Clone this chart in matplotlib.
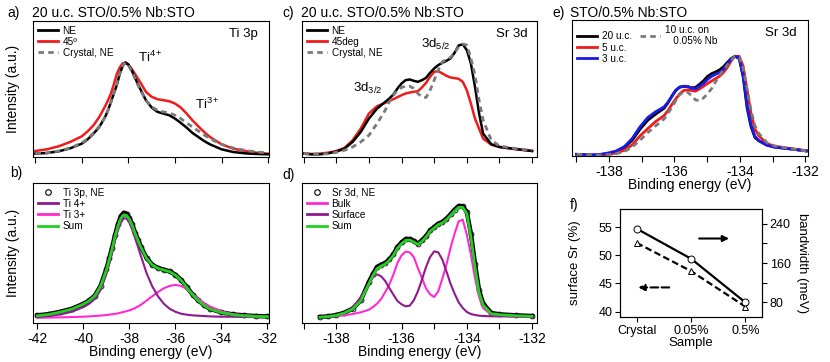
import matplotlib
matplotlib.use("Agg")
import matplotlib.pyplot as plt
from matplotlib.lines import Line2D

plt.rcParams["font.family"] = ["Liberation Sans", "DejaVu Sans"]
plt.rcParams["mathtext.fontset"] = "custom"
plt.rcParams["mathtext.rm"] = "Liberation Sans"
plt.rcParams["mathtext.it"] = "Liberation Sans"
plt.rcParams["mathtext.default"] = "regular"
plt.rcParams["axes.unicode_minus"] = False
plt.rcParams["font.size"] = 10
plt.rcParams["lines.solid_joinstyle"] = "round"
plt.rcParams["lines.dash_joinstyle"] = "round"

W, H = 830, 362

BLACK = "#000000"
RED = "#ee1c1c"
GRAY = "#7a7a7a"
BLUE = "#1a1ae6"
PURPLE = "#8e1b8c"
MAGENTA = "#ff2bd0"
GREEN = "#22d022"
DASH = (0, (2, 1.5))

# ---- a) Ti 3p, normalised spectra (a.u.)
ti_x = [-42, -41.5, -41, -40.5, -40, -39.75, -39.5, -39.25, -39, -38.875, -38.75,
        -38.625, -38.5, -38.375, -38.25, -38.125, -38, -37.875, -37.75, -37.625,
        -37.5, -37.25, -37, -36.75, -36.5, -36.25, -36, -35.75, -35.5, -35.25, -35,
        -34.75, -34.5, -34, -33.5, -33, -32.5, -32]
ti_ne = [10, 12, 17, 26, 40, 53, 70, 90, 120, 140, 165, 190, 215, 248, 272, 283,
         277, 262, 242, 223, 205, 170, 148, 135, 130, 125, 115, 102, 88, 72, 60, 48,
         38, 23, 15, 11, 9, 8]
ti_45 = [18, 23, 32, 45, 62, 77, 95, 120, 152, 170, 190, 218, 248, 268, 280, 282,
         276, 265, 252, 238, 225, 195, 180, 173, 170, 167, 160, 148, 130, 110, 92, 75,
         60, 38, 25, 18, 13, 10]
ti_crystal = [10, 12, 18, 27, 42, 55, 72, 92, 120, 140, 165, 192, 218, 250, 273, 282,
              275, 258, 240, 220, 202, 170, 150, 140, 135, 132, 125, 115, 102, 90, 78,
              66, 55, 38, 27, 20, 15, 12]

# ---- b) Ti 3p fit
tifit_x = ti_x
tifit_data = [23, 27, 34, 43, 58, 68, 83, 113, 163, 195, 228, 265, 298, 322, 333, 330,
              318, 298, 273, 252, 231, 196, 176, 166, 161, 156, 146, 130, 108, 86, 68,
              54, 43, 32, 26, 23, 21, 20]
tifit_sum = [22, 26, 33, 42, 57, 67, 82, 112, 160, 192, 225, 261, 293, 316, 327, 325,
             314, 295, 271, 250, 229, 195, 175, 165, 160, 155, 145, 129, 107, 85, 67,
             53, 42, 31, 25, 22, 20, 19]
tifit_4 = [18, 21, 26, 34, 48, 58, 73, 100, 148, 180, 213, 250, 280, 303, 316, 316,
           303, 282, 256, 230, 203, 150, 110, 80, 58, 43, 34, 28, 25, 23, 22, 21, 20,
           19, 19, 18, 18, 18]
ti3_x = [-42, -41, -40, -39.5, -39, -38.5, -38, -37.75, -37.5, -37.25, -37, -36.75,
         -36.5, -36.25, -36, -35.75, -35.5, -35.25, -35, -34.75, -34.5, -34, -33.5,
         -33, -32.5, -32]
ti3_y = [16, 17, 19, 21, 24, 29, 38, 45, 55, 68, 81, 94, 105, 112, 115, 112, 103,
         88, 73, 60, 50, 35, 27, 23, 21, 20]

# ---- c) Sr 3d, normalised spectra
sr_x = [-139, -138.75, -138.5, -138.25, -138, -137.75, -137.5, -137.25, -137,
        -136.75, -136.5, -136.375, -136.25, -136.125, -136, -135.875, -135.75,
        -135.625, -135.5, -135.375, -135.25, -135.125, -135, -134.875, -134.75,
        -134.625, -134.5, -134.375, -134.25, -134.125, -134, -133.875, -133.75,
        -133.625, -133.5, -133.25, -133, -132.5, -132]
sr_ne = [10, 8, 8, 11, 16, 25, 45, 75, 115, 145, 165, 175, 187, 205, 220, 230, 232,
         228, 225, 230, 237, 252, 265, 275, 282, 288, 295, 312, 334, 337, 320, 280,
         210, 130, 70, 38, 30, 24, 18]
sr_45 = [10, 9, 10, 13, 18, 27, 50, 85, 130, 152, 162, 168, 173, 179, 185, 190, 193,
         195, 197, 208, 222, 240, 255, 257, 250, 243, 238, 236, 234, 225, 200, 160,
         115, 85, 55, 37, 30, 23, 18]
sr_crystal = [10, 9, 9, 10, 14, 20, 30, 45, 65, 100, 140, 165, 185, 200, 208, 212,
              212, 205, 190, 180, 178, 200, 230, 260, 285, 292, 298, 312, 330, 338,
              335, 295, 245, 170, 110, 50, 33, 25, 20]

# ---- d) Sr 3d fit
srfit_x = [-138.5, -138.25, -138, -137.75, -137.5, -137.25, -137, -136.875, -136.75,
           -136.625, -136.5, -136.375, -136.25, -136.125, -136, -135.875, -135.75,
           -135.625, -135.5, -135.375, -135.25, -135.125, -135, -134.875, -134.75,
           -134.625, -134.5, -134.375, -134.25, -134.125, -134, -133.875, -133.75,
           -133.625, -133.5, -133.25, -133, -132.5, -132]
srfit_data = [18, 20, 24, 31, 43, 68, 123, 148, 168, 175, 180, 191, 206, 228, 242,
              252, 252, 246, 238, 248, 261, 278, 288, 298, 303, 313, 326, 340, 351,
              350, 333, 268, 178, 98, 58, 30, 26, 23, 21]
srfit_sum = [17, 19, 23, 30, 42, 66, 118, 143, 163, 171, 177, 188, 203, 224, 238,
             248, 249, 243, 236, 245, 258, 275, 285, 295, 300, 310, 323, 336, 347,
             347, 328, 258, 168, 92, 54, 28, 25, 22, 20]
srfit_bulk = [18, 19, 21, 23, 27, 32, 40, 48, 58, 72, 93, 115, 145, 180, 203, 214,
              212, 198, 165, 135, 104, 86, 78, 95, 133, 175, 225, 268, 305, 310, 265,
              205, 135, 78, 45, 25, 21, 19, 19]
srfit_surf = [18, 20, 23, 30, 45, 78, 118, 137, 146, 140, 126, 105, 85, 66, 56, 50,
              52, 68, 95, 130, 168, 198, 215, 212, 190, 155, 118, 88, 62, 45, 33, 27,
              24, 22, 21, 20, 20, 20, 20]

# ---- e) Sr 3d vs film thickness
th_x = [-138.99, -138.75, -138.50, -138.26, -138.02, -137.78, -137.53, -137.29,
        -137.05, -136.81, -136.57, -136.32, -136.20, -136.08, -135.96, -135.84,
        -135.72, -135.60, -135.48, -135.36, -135.23, -135.11, -134.99, -134.87,
        -134.75, -134.63, -134.51, -134.39, -134.27, -134.15, -134.02, -133.90,
        -133.78, -133.66, -133.54, -133.42, -133.18, -132.94, -132.45, -131.97]
th_20uc = [5, 4, 3, 4, 7, 13, 25, 47, 80, 107, 125, 142, 158, 178, 195, 205, 207,
           207, 203, 204, 214, 224, 237, 245, 250, 256, 265, 278, 290, 297, 290, 235,
           143, 87, 55, 45, 33, 27, 21, 15]
th_5uc = [5, 4, 2, 3, 5, 9, 17, 33, 60, 82, 103, 120, 135, 153, 170, 185, 195, 197,
          195, 193, 200, 208, 216, 223, 230, 237, 248, 263, 283, 297, 297, 267, 195,
          125, 80, 60, 37, 29, 22, 16]
th_3uc = [5, 4, 3, 5, 9, 15, 28, 52, 87, 115, 132, 146, 160, 178, 196, 205, 208, 207,
          202, 200, 208, 217, 228, 237, 243, 248, 258, 273, 288, 297, 292, 240, 150,
          92, 58, 46, 32, 26, 21, 15]
th_10uc = [5, 4, 3, 3, 4, 7, 13, 27, 47, 70, 90, 110, 127, 145, 165, 183, 190, 190,
           180, 167, 165, 173, 185, 200, 220, 240, 255, 270, 285, 297, 295, 260, 200,
           135, 90, 67, 40, 30, 22, 15]

# ---- f) surface Sr and bandwidth
samples = ["Crystal", "0.05%", "0.5%"]
surface_sr = [52.2, 47.2, 40.9]
bandwidth = [230, 169, 80]


def px_axes(fig, x0, y0, x1, y1):
    """Axes from a pixel box (top-left origin)."""
    return fig.add_axes([x0 / W, 1 - y1 / H, (x1 - x0) / W, (y1 - y0) / H])


def ftext(fig, x, y, s, **kw):
    kw.setdefault("va", "baseline")
    kw.setdefault("fontsize", 10)
    fig.text(x / W, 1 - y / H, s, **kw)


def style(ax, labels=True):
    for sp in ax.spines.values():
        sp.set_linewidth(0.8)
    ax.tick_params(axis="x", direction="out", length=4, width=0.8, pad=2.5,
                   labelbottom=labels, labelsize=10)
    ax.tick_params(axis="y", left=False, labelleft=False)


def legend(ax, handles, **kw):
    opts = dict(loc="upper left", frameon=False, fontsize=7.2, handlelength=2.0,
                handletextpad=0.5, labelspacing=0.12, borderaxespad=0.25,
                borderpad=0.2)
    opts.update(kw)
    return ax.legend(handles=handles, **opts)


def line(color, label, ls="-", lw=2):
    return Line2D([], [], color=color, lw=lw, ls=ls, label=label)


def circle(label):
    return Line2D([], [], ls="none", marker="o", ms=4, mfc="none", mec=BLACK,
                  mew=0.8, label=label)


fig = plt.figure(figsize=(W / 100, H / 100), dpi=100)

# ===================== a)
ax = px_axes(fig, 33, 21, 269, 157)
ax.plot(ti_x, ti_crystal, color=GRAY, lw=2, ls=DASH, zorder=3)
ax.plot(ti_x, ti_45, color=RED, lw=1.8, zorder=2)
ax.plot(ti_x, ti_ne, color=BLACK, lw=1.8, zorder=2)
ax.set_xlim(-42.1, -31.96)
ax.set_ylim(0, 407)
ax.set_xticks(range(-42, -31, 2))
style(ax, labels=False)
legend(ax, [line(BLACK, "NE"), line(RED, "45º"), line(GRAY, "Crystal, NE", ls=DASH)])
ax.set_ylabel("Intensity (a.u.)", va="center")
ax.yaxis.set_label_coords(-0.085, 0.5)

# ===================== b)
ax = px_axes(fig, 33, 183, 269, 323)
ax.plot(tifit_x, tifit_data, color=BLACK, lw=3.2, marker="o", ms=3.5,
        mfc="none", mec=BLACK, mew=0.6, zorder=2)
ax.plot(ti3_x, ti3_y, color=MAGENTA, lw=1.5, zorder=3)
ax.plot(tifit_x, tifit_4, color=PURPLE, lw=1.5, zorder=3)
ax.plot(tifit_x, tifit_sum, color=GREEN, lw=2, zorder=4)
ax.set_xlim(-42.19, -31.93)
ax.set_ylim(0, 423)
ax.set_xticks(range(-42, -31, 2))
style(ax)
legend(ax, [circle("Ti 3p, NE"), line(PURPLE, "Ti 4+"), line(MAGENTA, "Ti 3+"),
            line(GREEN, "Sum")])
ax.set_ylabel("Intensity (a.u.)", va="center")
ax.yaxis.set_label_coords(-0.085, 0.5)
ax.set_xlabel("Binding energy (eV)", labelpad=-1)

# ===================== c)
ax = px_axes(fig, 302, 21, 537, 157)
ax.plot(sr_x, sr_crystal, color=GRAY, lw=2, ls=DASH, zorder=3)
ax.plot(sr_x, sr_45, color=RED, lw=1.8, zorder=2)
ax.plot(sr_x, sr_ne, color=BLACK, lw=1.8, zorder=2)
ax.set_xlim(-139.05, -131.85)
ax.set_ylim(0, 407)
ax.set_xticks(range(-139, -131))
style(ax, labels=False)
legend(ax, [line(BLACK, "NE"), line(RED, "45deg"),
            line(GRAY, "Crystal, NE", ls=DASH)])

# ===================== d)
ax = px_axes(fig, 302, 183, 537, 323)
ax.plot(srfit_x, srfit_data, color=BLACK, lw=3.2, marker="o", ms=3.5,
        mfc="none", mec=BLACK, mew=0.6, zorder=2)
ax.plot(srfit_x, srfit_bulk, color=MAGENTA, lw=1.5, zorder=3)
ax.plot(srfit_x, srfit_surf, color=PURPLE, lw=1.5, zorder=3)
ax.plot(srfit_x, srfit_sum, color=GREEN, lw=2, zorder=4)
ax.set_xlim(-139.05, -131.85)
ax.set_ylim(0, 420)
ticks = list(range(-139, -131))
ax.set_xticks(ticks)
ax.set_xticklabels([str(t) if t % 2 == 0 else "" for t in ticks])
style(ax)
legend(ax, [circle("Sr 3d, NE"), line(MAGENTA, "Bulk"), line(PURPLE, "Surface"),
            line(GREEN, "Sum")])
ax.set_xlabel("Binding energy (eV)", labelpad=-1)

# ===================== e)
ax = px_axes(fig, 572, 20, 808, 156)
ax.plot(th_x, th_20uc, color=BLACK, lw=2, zorder=2)
ax.plot(th_x, th_5uc, color=RED, lw=2, zorder=3)
ax.plot(th_x, th_3uc, color=BLUE, lw=2, zorder=4)
ax.plot(th_x, th_10uc, color=GRAY, lw=2, ls=DASH, zorder=5)
ax.set_xlim(-139.13, -131.92)
ax.set_ylim(0, 405)
ax.set_xticks(ticks)
ax.set_xticklabels([str(t) if t % 2 == 0 else "" for t in ticks])
style(ax)
blank = Line2D([], [], ls="none", label=" ")
legend(ax, [line(BLACK, "20 u.c."), line(RED, "5 u.c."), line(BLUE, "3 u.c."),
            line(GRAY, "10 u.c. on\n   0.05% Nb", ls=DASH), blank, blank],
       ncol=2, columnspacing=0.8)
ax.set_xlabel("Binding energy (eV)", labelpad=-1)

# ===================== f)
xs = range(len(samples))
ax1 = px_axes(fig, 620, 209, 762, 317)
ax2 = ax1.twinx()
ax1.plot(xs, surface_sr, color=BLACK, lw=1.6, ls=(0, (3, 1.5)), marker="^",
         ms=5, mfc="white", mec=BLACK, mew=0.7)
ax2.plot(xs, bandwidth, color=BLACK, lw=1.6, marker="o", ms=5, mfc="white",
         mec=BLACK, mew=0.7)
ax1.set_xlim(-0.306, 2.306)
ax1.set_ylim(39.06, 58.2)
ax2.set_ylim(50.4, 270)
ax1.set_xticks(list(xs))
ax1.set_xticklabels(samples)
ax1.set_yticks([40, 45, 50, 55])
ax2.set_yticks([80, 120, 160, 200, 240])
ax2.set_yticklabels(["80", "", "160", "", "240"])
for a_ in (ax1, ax2):
    for sp in a_.spines.values():
        sp.set_linewidth(0.8)
    a_.tick_params(direction="out", length=3.5, width=0.8, pad=2, labelsize=9)
ax1.set_xlabel("Sample", fontsize=9.5, labelpad=0)
ax1.set_ylabel("surface Sr (%)", fontsize=9.5, va="center")
ax1.yaxis.set_label_coords(-0.317, 0.5)
ax2.set_ylabel("bandwidth (meV)", fontsize=9.5, rotation=270, va="center")
ax2.yaxis.set_label_coords(1.285, 0.5)
ax2.annotate("", xy=(1.7, 210), xytext=(1.15, 210),
             arrowprops=dict(arrowstyle="-|>", color=BLACK, lw=1.5,
                             mutation_scale=9, shrinkA=0, shrinkB=0))
ax1.annotate("", xy=(0.03, 44.3), xytext=(0.6, 44.3),
             arrowprops=dict(arrowstyle="-|>", color=BLACK, lw=1.5, ls="--",
                             mutation_scale=9, shrinkA=0, shrinkB=0))

# ---- panel letters, titles and peak labels
ftext(fig, 7, 17, "a)")
ftext(fig, 10, 177, "b)")
ftext(fig, 282, 17, "c)")
ftext(fig, 282, 179, "d)")
ftext(fig, 552, 17, "e)")
ftext(fig, 570, 209, "f)")
ftext(fig, 32, 17, "20 u.c. STO/0.5% Nb:STO")
ftext(fig, 301, 17, "20 u.c. STO/0.5% Nb:STO")
ftext(fig, 570, 17, "STO/0.5% Nb:STO")
ftext(fig, 258, 37, "Ti 3p", fontsize=9.5, ha="right")
ftext(fig, 528, 37, "Sr 3d", fontsize=9.5, ha="right")
ftext(fig, 797, 36, "Sr 3d", fontsize=9.5, ha="right")
ftext(fig, 138, 62, "Ti$^{4+}$", fontsize=9.5)
ftext(fig, 195, 109, "Ti$^{3+}$", fontsize=9.5)
ftext(fig, 421, 48, "3d$_{5/2}$", fontsize=9.5)
ftext(fig, 353, 92, "3d$_{3/2}$", fontsize=9.5)

fig.savefig("out.png", dpi=100, facecolor="white")
